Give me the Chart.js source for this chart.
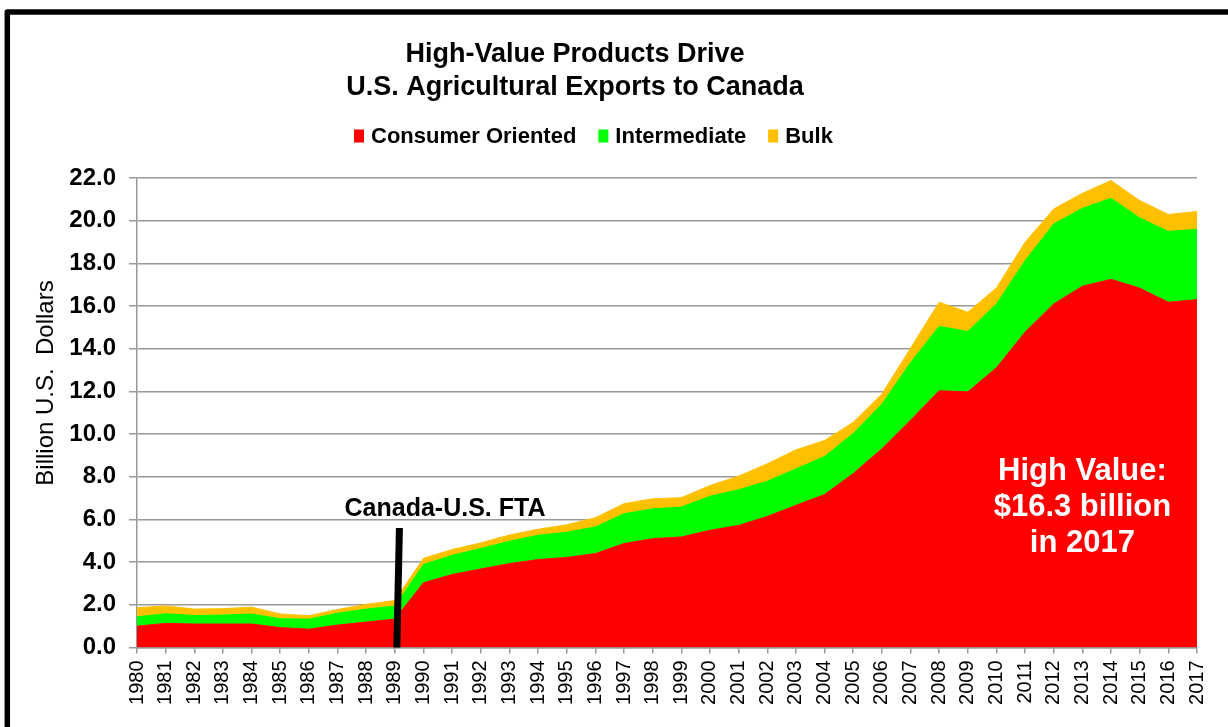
<!DOCTYPE html>
<html>
<head>
<meta charset="utf-8">
<script src="https://cdn.jsdelivr.net/npm/chart.js@4.4.0/dist/chart.umd.min.js"></script>
<style>
  html, body { margin: 0; padding: 0; background: #fff; }
</style>
</head>
<body>
<canvas id="exportsChart" width="1228" height="727"></canvas>
<script>
// values, billion US$ (layers, stacked)
const years = ['1980','1981','1982','1983','1984','1985','1986','1987','1988','1989',
  '1990','1991','1992','1993','1994','1995','1996','1997','1998','1999',
  '2000','2001','2002','2003','2004','2005','2006','2007','2008','2009',
  '2010','2011','2012','2013','2014','2015','2016','2017'];
const consumerOriented = [1.00,1.13,1.10,1.10,1.10,0.93,0.86,1.05,1.19,1.33,
  3.03,3.42,3.68,3.93,4.12,4.22,4.40,4.87,5.10,5.18,
  5.49,5.72,6.14,6.66,7.17,8.15,9.31,10.65,12.03,11.98,
  13.11,14.78,16.10,16.93,17.25,16.84,16.18,16.30];
const intermediate = [0.44,0.45,0.40,0.42,0.47,0.42,0.47,0.56,0.61,0.61,
  0.86,0.90,0.96,1.05,1.14,1.18,1.25,1.40,1.40,1.40,
  1.60,1.67,1.65,1.71,1.78,1.88,2.09,2.70,3.02,2.83,
  2.99,3.35,3.75,3.65,3.80,3.29,3.32,3.30];
const bulk = [0.42,0.37,0.30,0.30,0.32,0.22,0.16,0.17,0.22,0.26,
  0.29,0.27,0.26,0.29,0.28,0.35,0.43,0.47,0.47,0.44,
  0.50,0.64,0.82,0.89,0.75,0.52,0.48,0.67,1.13,0.90,
  0.75,0.86,0.70,0.70,0.83,0.81,0.79,0.83];

const seriesNames = ['Consumer Oriented', 'Intermediate', 'Bulk'];
const seriesColors = ['#FF0000', '#00FF00', '#FFC000'];

const chartTitle = ['High-Value Products Drive', 'U.S. Agricultural Exports to Canada'];
const yAxisTitle = 'Billion U.S.  Dollars';
const ftaLabel = 'Canada-U.S. FTA';
const highValueNote = ['High Value:', '$16.3 billion', 'in 2017'];

const FONT = '"Liberation Sans", Arial, sans-serif';

const decorations = {
  id: 'decorations',
  beforeDraw(chart) {
    const ctx = chart.ctx;
    ctx.save();
    ctx.fillStyle = '#fff';
    ctx.fillRect(0, 0, chart.width, chart.height);
    ctx.restore();
  },
  afterDatasetsDraw(chart) {
    const { ctx, scales: { x, y } } = chart;
    ctx.save();
    // free trade agreement marker (1989)
    ctx.strokeStyle = '#000';
    ctx.lineWidth = 7;
    ctx.beginPath();
    ctx.moveTo(x.getPixelForValue(9.16), y.getPixelForValue(5.6));
    ctx.lineTo(x.getPixelForValue(9.07), y.getPixelForValue(0));
    ctx.stroke();

    ctx.fillStyle = '#000';
    ctx.textAlign = 'center';
    ctx.textBaseline = 'alphabetic';
    ctx.font = 'bold 25px ' + FONT;
    ctx.fillText(ftaLabel, x.getPixelForValue(10.75), y.getPixelForValue(6.15));

    ctx.fillStyle = '#fff';
    ctx.font = 'bold 31px ' + FONT;
    const noteX = x.getPixelForValue(33);
    const noteY = y.getPixelForValue(7.87);
    highValueNote.forEach((line, i) => ctx.fillText(line, noteX, noteY + i * 36));
    ctx.restore();
  },
  afterDraw(chart) {
    const ctx = chart.ctx;
    ctx.save();
    // outer frame (left + top only, the rest is cropped)
    ctx.strokeStyle = '#000';
    ctx.lineWidth = 5.5;
    ctx.lineJoin = 'round';
    ctx.beginPath();
    ctx.moveTo(7.3, chart.height + 5);
    ctx.lineTo(7.3, 12);
    ctx.lineTo(chart.width + 5, 12);
    ctx.stroke();

    // title
    ctx.fillStyle = '#000';
    ctx.textAlign = 'center';
    ctx.font = 'bold 27px ' + FONT;
    ctx.fillText(chartTitle[0], 575, 62);
    ctx.fillText(chartTitle[1], 575, 95);

    // legend
    ctx.textAlign = 'left';
    ctx.font = 'bold 22px ' + FONT;
    let lx = 354;
    chart.data.datasets.forEach(ds => {
      ctx.fillStyle = ds.backgroundColor;
      ctx.fillRect(lx, 129.5, 10, 13);
      ctx.fillStyle = '#000';
      ctx.fillText(ds.label, lx + 17, 143);
      lx += 17 + ctx.measureText(ds.label).width + 22;
    });

    // y axis title
    ctx.translate(46.5, 383);
    ctx.rotate(-Math.PI / 2);
    ctx.textAlign = 'center';
    ctx.textBaseline = 'middle';
    ctx.font = '24px ' + FONT;
    ctx.fillText(yAxisTitle, 0, 0);
    ctx.restore();
  }
};

const layers = [consumerOriented, intermediate, bulk];

new Chart(document.getElementById('exportsChart').getContext('2d'), {
  type: 'line',
  data: {
    labels: years,
    datasets: layers.map((values, i) => ({
      label: seriesNames[i],
      data: values,
      backgroundColor: seriesColors[i],
      borderColor: seriesColors[i],
      borderWidth: 1,
      fill: i === 0 ? 'origin' : '-1',
      pointRadius: 0,
      tension: 0
    }))
  },
  options: {
    responsive: false,
    animation: false,
    layout: { padding: { left: 10, right: 29, top: 178, bottom: 0 } },
    plugins: {
      legend: { display: false },
      title: { display: false },
      tooltip: { enabled: false }
    },
    scales: {
      x: {
        stacked: true,
        offset: false,
        grid: { drawOnChartArea: false, drawTicks: true, tickLength: 6, color: '#999', lineWidth: 1.5 },
        border: { color: '#999', width: 1.5 },
        ticks: {
          autoSkip: false, minRotation: 90, maxRotation: 90, padding: 7,
          color: '#000', font: { family: FONT, size: 20 }
        },
        afterFit(scale) { scale.height = 79.5; }
      },
      y: {
        stacked: true,
        min: 0,
        max: 22,
        grid: { color: '#999', lineWidth: 1.5, tickLength: 8 },
        border: { color: '#999', width: 1.5 },
        ticks: {
          stepSize: 2, padding: 13, color: '#000',
          font: { family: FONT, size: 24, weight: 'bold' },
          callback: v => v.toFixed(1)
        },
        afterFit(scale) { scale.width = 127; }
      }
    }
  },
  plugins: [decorations]
});
</script>
</body>
</html>
